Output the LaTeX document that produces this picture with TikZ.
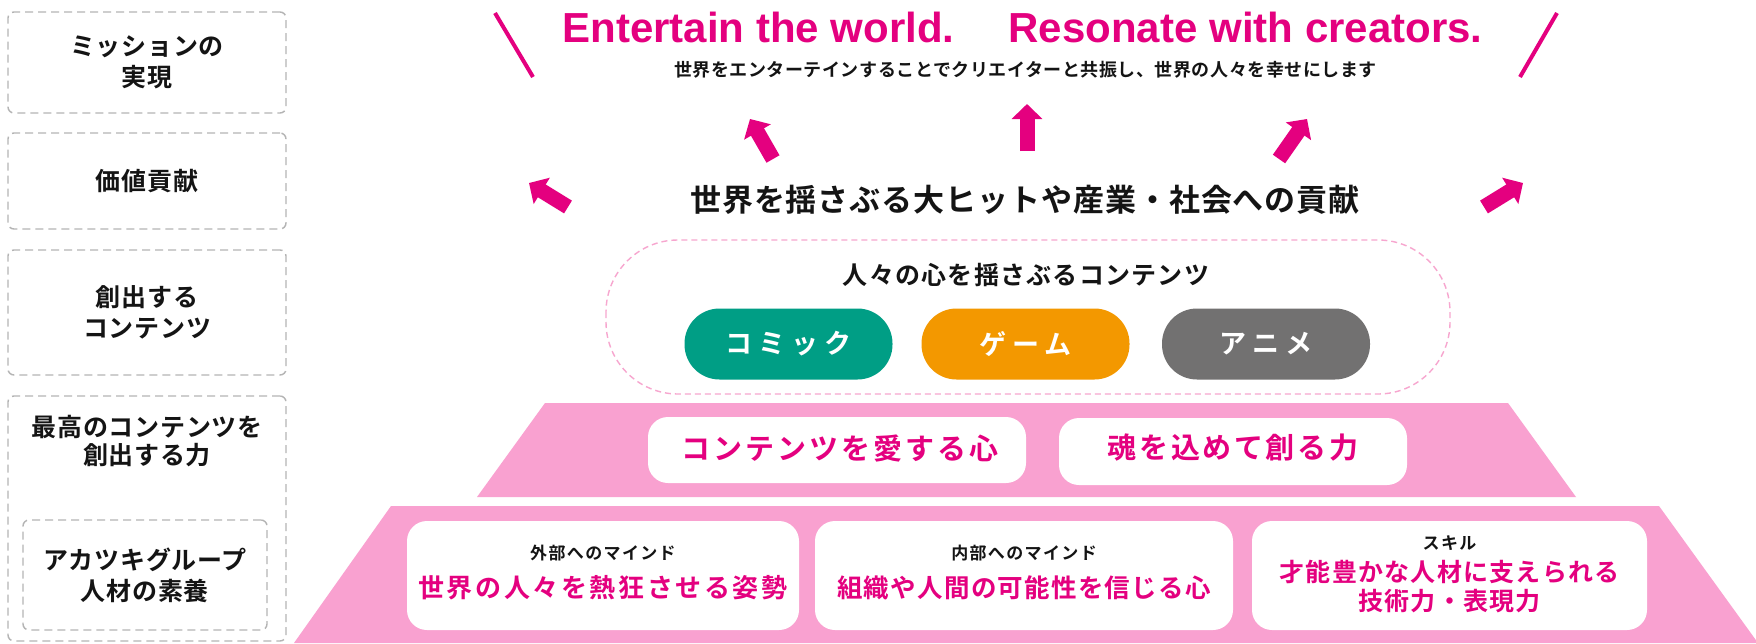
\documentclass[tikz,border=0pt]{standalone}
\usepackage{fontspec}
\setmainfont{Noto Sans CJK JP}[BoldFont={Noto Sans CJK JP Bold}]
\newfontfamily\lat{Liberation Sans}
\usetikzlibrary{arrows.meta}
\definecolor{mag}{HTML}{E4007F}
\definecolor{pinkc}{HTML}{F9A1D0}
\definecolor{pinkdash}{HTML}{F7A6CF}
\definecolor{gboxc}{HTML}{B4B4B4}
\definecolor{tealc}{HTML}{009E85}
\definecolor{orangec}{HTML}{F39800}
\definecolor{grayc}{HTML}{727171}
\definecolor{ink}{HTML}{141414}
\newcommand\fsz[2]{\fontsize{#1}{#2}\selectfont}
\newcommand\ls[1]{\addfontfeature{LetterSpace=#1}}
\tikzset{
  leftbox/.style={draw=gboxc, dash pattern=on 8pt off 5pt, line width=1.4pt, rounded corners=6pt, inner sep=0pt},
  ltext/.style={text=ink, align=center, font=\bfseries\fsz{25}{31}\ls{3}},
  whitebox/.style={fill=white, draw=none, rounded corners=20pt, inner sep=0pt},
  pill/.style={rounded corners=35pt, inner sep=0pt, minimum width=208pt, minimum height=71pt, text=white, font=\bfseries\fsz{27}{27}\ls{22}},
  marrow/.style={draw=mag, line width=15pt, -{Triangle[width=30pt,length=15pt]}},
  slash/.style={draw=mag, line width=4pt},
  smalllab/.style={text=ink, font=\bfseries\fsz{17}{17}\ls{8}},
  magtext/.style={text=mag, font=\bfseries\fsz{25}{29}#1, align=center},
  every node/.style={inner sep=0pt, outer sep=0pt}
}
\begin{document}
\begin{tikzpicture}[x=1pt,y=-1pt]
\useasboundingbox (0,0) rectangle (1756,643);
\fill[white] (0,0) rectangle (1756,643);

% left column
\node[leftbox, minimum width=278pt, minimum height=101pt] (L1) at (147,62.5) {};
\node[ltext] (L1t) at (L1) {ミッションの\\実現};
\node[leftbox, minimum width=278pt, minimum height=96pt] (L2) at (147,181) {};
\node[ltext] (L2t) at (L2) {価値貢献};
\node[leftbox, minimum width=278pt, minimum height=125pt] (L3) at (147,312.5) {};
\node[ltext] (L3t) at (L3) {創出する\\コンテンツ};
\node[leftbox, minimum width=278pt, minimum height=245pt] (L4) at (147,518.5) {};
\node[ltext, font=\bfseries\fsz{25}{28}\ls{3}] (L4t) at (147,441) {最高のコンテンツを\\創出する力};
\node[leftbox, minimum width=244pt, minimum height=110pt] (L5) at (145,575) {};
\node[ltext] (L5t) at (L5) {アカツキグループ\\人材の素養};

% pyramid
\fill[pinkc] (545,403) -- (1508,403) -- (1576,497) -- (477,497) -- cycle;
\fill[pinkc] (391,506) -- (1659,506) -- (1758,643) -- (294,643) -- cycle;

% top texts
\node[anchor=base, text=mag, font=\lat\bfseries\fsz{42}{42}] (title) at (1022.5,42) {Entertain the world.\hspace{54pt}Resonate with creators.};
\node[text=ink, font=\bfseries\fsz{18}{18}\ls{3}] (sub) at (1025.5,70) {世界をエンターテインすることでクリエイターと共振し、世界の人々を幸せにします};
\draw[slash] (495,13) -- (533,77);
\draw[slash] (1557,13) -- (1520,77);

% arrows
\coordinate (a1s) at (568,207); \coordinate (a1e) at (529,183);
\coordinate (a2s) at (773,159); \coordinate (a2e) at (750,119);
\coordinate (a3s) at (1027,151); \coordinate (a3e) at (1027,104);
\coordinate (a4s) at (1279,159); \coordinate (a4e) at (1307,119);
\coordinate (a5s) at (1484,207); \coordinate (a5e) at (1523,183);
\foreach \i in {1,...,5} {\draw[marrow] (a\i s) -- (a\i e);}

\node[text=ink, font=\bfseries\fsz{31}{31}\ls{3}] (contrib) at (1025,200) {世界を揺さぶる大ヒットや産業・社会への貢献};

% contents
\draw[pinkdash, line width=1.4pt, dash pattern=on 6pt off 4pt, rounded corners=72pt] (606,240) rectangle (1450,394);
\node[text=ink, font=\bfseries\fsz{25}{25}\ls{5}] (ct) at (1026,275) {人々の心を揺さぶるコンテンツ};
\node[pill, fill=tealc] (comic) at (788.5,344) {コミック};
\node[pill, fill=orangec] (game) at (1025.5,344) {ゲーム};
\node[pill, fill=grayc] (anime) at (1266,344) {アニメ};

% level 1
\node[whitebox, minimum width=378pt, minimum height=66pt] (A) at (837,450) {};
\node[magtext={\fsz{29}{29}\ls{10}}] (At) at (840,448) {コンテンツを愛する心};
\node[whitebox, minimum width=348pt, minimum height=67pt] (B) at (1233,451.5) {};
\node[magtext={\fsz{29}{29}\ls{9}}] (Bt) at (1233,448) {魂を込めて創る力};

% level 2
\node[whitebox, minimum width=392pt, minimum height=109pt] (C1) at (603,575.5) {};
\node[smalllab] (C1s) at (603,553) {外部へのマインド};
\node[magtext={\fsz{26}{26}\ls{10}}] (C1t) at (603,588) {世界の人々を熱狂させる姿勢};
\node[whitebox, minimum width=418pt, minimum height=109pt] (C2) at (1024,575.5) {};
\node[smalllab] (C2s) at (1024,553) {内部へのマインド};
\node[magtext={\fsz{25.5}{26}\ls{5}}] (C2t) at (1024,588) {組織や人間の可能性を信じる心};
\node[whitebox, minimum width=395pt, minimum height=109pt] (C3) at (1449.5,575.5) {};
\node[smalllab] (C3s) at (1449.5,543) {スキル};
\node[magtext={\ls{5}}] (C3t) at (1449.5,572) {才能豊かな人材に支えられる};
\node[magtext={\ls{5}}] (C3u) at (1449.5,601) {技術力・表現力};
\end{tikzpicture}
\end{document}
